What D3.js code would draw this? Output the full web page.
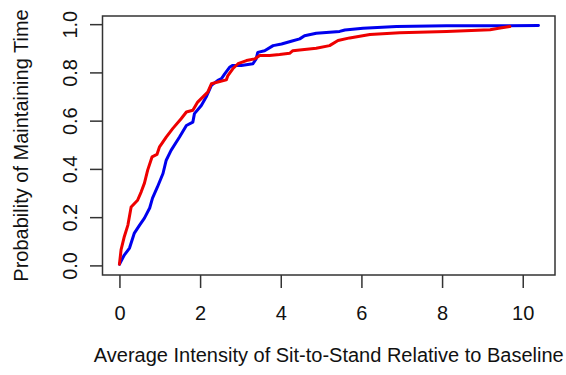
<!DOCTYPE html>
<html>
<head>
<meta charset="utf-8">
<script src="https://cdn.jsdelivr.net/npm/d3@7"></script>
<style>
  html, body { margin: 0; padding: 0; background: #fff; }
  svg { display: block; }
  text { font-family: "Liberation Sans", Arial, Helvetica, sans-serif; fill: #111; }
</style>
</head>
<body>
<svg id="chart" width="566" height="375"></svg>
<script>
// ---- data ----
const blueX = [0, 0.12, 0.25, 0.37, 0.50, 0.62, 0.75, 0.82, 0.94, 1.08, 1.16, 1.28, 1.49, 1.66, 1.82, 1.86, 2.03, 2.15, 2.28, 2.44, 2.53, 2.61, 2.73, 2.81, 3.02, 3.31, 3.39, 3.43, 3.60, 3.81, 4.02, 4.26, 4.47, 4.59, 4.88, 5.46, 5.59, 6.04, 6.87, 8.11, 9.44, 10.39];
const blueY = [0.005, 0.043, 0.072, 0.134, 0.167, 0.196, 0.238, 0.279, 0.324, 0.381, 0.436, 0.477, 0.532, 0.580, 0.594, 0.629, 0.663, 0.698, 0.746, 0.767, 0.774, 0.794, 0.821, 0.829, 0.829, 0.836, 0.856, 0.883, 0.890, 0.911, 0.918, 0.929, 0.939, 0.952, 0.962, 0.970, 0.976, 0.983, 0.990, 0.993, 0.993, 0.994];
const redX = [0, 0.04, 0.12, 0.21, 0.29, 0.45, 0.54, 0.62, 0.70, 0.81, 0.93, 0.99, 1.16, 1.32, 1.53, 1.66, 1.82, 1.94, 2.19, 2.28, 2.44, 2.65, 2.69, 2.81, 2.94, 3.15, 3.35, 3.48, 3.72, 3.97, 4.22, 4.30, 4.47, 4.88, 5.21, 5.42, 5.71, 6.21, 6.95, 8.11, 9.19, 9.44, 9.68];
const redY = [0.005, 0.064, 0.119, 0.167, 0.242, 0.270, 0.305, 0.341, 0.395, 0.450, 0.460, 0.490, 0.532, 0.567, 0.608, 0.636, 0.643, 0.677, 0.718, 0.753, 0.760, 0.769, 0.787, 0.815, 0.836, 0.849, 0.856, 0.870, 0.870, 0.874, 0.879, 0.890, 0.893, 0.900, 0.911, 0.932, 0.943, 0.957, 0.964, 0.970, 0.977, 0.984, 0.990];
const xTicks = [0, 2, 4, 6, 8, 10];
const yTicks = [0, 0.2, 0.4, 0.6, 0.8, 1.0];
const xTitle = "Average Intensity of Sit-to-Stand Relative to Baseline";
const yTitle = "Probability of Maintaining Time";
const blueColor = "#0000ee";
const redColor = "#ee0000";

// ---- layout ----
const svg = d3.select("#chart");
const x = d3.scaleLinear().domain([-0.42, 10.8]).range([102.5, 555]);
const y = d3.scaleLinear().domain([-0.0398, 1.0338]).range([275, 16]);
const fontSize = "20px";

const line = d3.line().x(d => x(d[0])).y(d => y(d[1]));
const blueData = blueX.map((v, i) => [v, blueY[i]]);
const redData = redX.map((v, i) => [v, redY[i]]);

svg.append("path").datum(blueData)
  .attr("d", line).attr("fill", "none")
  .attr("stroke", blueColor).attr("stroke-width", 3)
  .attr("stroke-linejoin", "round").attr("stroke-linecap", "round");
svg.append("path").datum(redData)
  .attr("d", line).attr("fill", "none")
  .attr("stroke", redColor).attr("stroke-width", 3)
  .attr("stroke-linejoin", "round").attr("stroke-linecap", "round");

// frame
svg.append("rect")
  .attr("x", x.range()[0]).attr("y", y.range()[1])
  .attr("width", x.range()[1] - x.range()[0])
  .attr("height", y.range()[0] - y.range()[1])
  .attr("fill", "none").attr("stroke", "#333").attr("stroke-width", 1.5);

// x axis
const gx = svg.append("g").attr("transform", "translate(0,275)")
  .call(d3.axisBottom(x).tickValues(xTicks).tickSize(13).tickFormat(d3.format("d")));
gx.select(".domain").remove();
gx.selectAll(".tick line").attr("stroke", "#333").attr("stroke-width", 1.5);
gx.selectAll(".tick text")
  .attr("y", 45).attr("dy", 0)
  .style("font-size", fontSize)
  .attr("fill", "#111")
  .style("font-family", '"Liberation Sans", Arial, sans-serif');

// y axis
const gy = svg.append("g").attr("transform", "translate(102.5,0)")
  .call(d3.axisLeft(y).tickValues(yTicks).tickSize(12.5).tickFormat(d3.format(".1f")));
gy.select(".domain").remove();
gy.selectAll(".tick line").attr("stroke", "#333").attr("stroke-width", 1.5);
gy.selectAll(".tick text")
  .attr("x", 0).attr("y", 0).attr("dy", 0)
  .attr("text-anchor", "middle")
  .attr("transform", "translate(-26,0) rotate(-90)")
  .style("font-size", fontSize)
  .attr("fill", "#111")
  .style("font-family", '"Liberation Sans", Arial, sans-serif');

// titles
svg.append("text")
  .attr("x", (x.range()[0] + x.range()[1]) / 2).attr("y", 361.5)
  .attr("text-anchor", "middle").style("font-size", fontSize)
  .text(xTitle);
svg.append("text")
  .attr("transform", `translate(27.5,${(y.range()[0] + y.range()[1]) / 2}) rotate(-90)`)
  .attr("text-anchor", "middle").style("font-size", fontSize)
  .text(yTitle);
</script>
</body>
</html>
